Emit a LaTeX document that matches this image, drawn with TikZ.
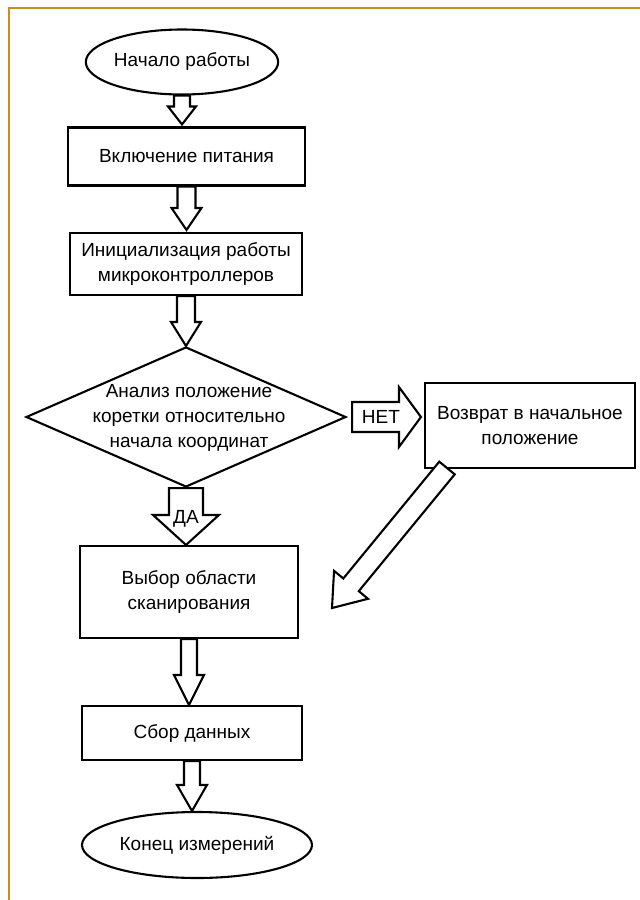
\documentclass[tikz,border=0pt]{standalone}
\usepackage{fontspec}
\setmainfont{Liberation Sans}
\usetikzlibrary{shapes.geometric,calc}
\definecolor{framecol}{RGB}{204,140,30}
\tikzset{
  lbl/.style={font=\fontsize{19}{25}\selectfont, align=center},
  proc/.style={draw, line width=2.1pt, fill=white, rectangle, inner sep=0, lbl},
  term/.style={draw, line width=2.1pt, fill=white, ellipse, inner sep=0, lbl},
  dec/.style={draw, line width=2.1pt, fill=white, diamond, inner sep=0},
  barrow/.style={draw, line width=2.1pt, fill=white, line join=miter},
  framestyle/.style={draw=framecol, line width=2.6pt},
}
% #1 start, #2 tip, #3 shaft half width, #4 head half width, #5 head length
\newcommand\blockarrow[5]{%
  \path ($(#2)!#5!(#1)$) coordinate (ba-h);
  \draw[barrow] ($(#1)!#3!90:(#2)$) -- ($(ba-h)!#3!90:(#2)$) -- ($(ba-h)!#4!90:(#2)$)
    -- (#2) -- ($(ba-h)!#4!-90:(#2)$) -- ($(ba-h)!#3!-90:(#2)$) -- ($(#1)!#3!-90:(#2)$) -- cycle;}
\begin{document}
\begin{tikzpicture}[x=1pt,y=-1pt]
\useasboundingbox (0,0) rectangle (640,900);
\fill[white] (0,0) rectangle (640,900);
\draw[framestyle] (9,900) -- (9,8) -- (640,8);

\node[term, minimum width=186, minimum height=65] (start) at (182,62) {Начало работы};
\node[proc, minimum width=237, minimum height=58] (b1) at (186.5,156.5) {Включение питания};
\node[proc, minimum width=232, minimum height=62] (b2) at (186,264) {Инициализация работы\\микроконтроллеров};
\node[dec, minimum width=320, minimum height=140] (dia) at (186,417) {};
\node[lbl] (diatext) at (189,418) {Анализ положение\\коретки относительно\\начала координат};
\node[proc, minimum width=210, minimum height=85] (ret) at (530,425.5) {Возврат в начальное\\положение};
\node[proc, minimum width=218, minimum height=92] (b3) at (189,592) {Выбор области\\сканирования};
\node[proc, minimum width=220, minimum height=54] (b4) at (192,733) {Сбор данных};
\node[term, minimum width=230, minimum height=66] (fin) at (197,845) {Конец измерений};

\coordinate (s1) at (start.south);
\coordinate (e1) at ($(s1 |- b1.north)+(0,-2)$);
\blockarrow{s1}{e1}{8pt}{14pt}{18pt}
\coordinate (s2) at (b1.south);
\coordinate (e2) at ($(s2 |- b2.north)+(0,-2)$);
\blockarrow{s2}{e2}{9pt}{15pt}{22pt}
\coordinate (s3) at (b2.south);
\coordinate (e3) at (s3 |- dia.north);
\blockarrow{s3}{e3}{9pt}{15pt}{24pt}
% NO branch
\coordinate (s4) at ($(dia.east)+(5,0)$);
\coordinate (e4) at ($(s4 |- ret.west)+(0,0)$);
\coordinate (e4) at ($(ret.west |- s4)+(-3,0)$);
\blockarrow{s4}{e4}{15pt}{30pt}{22pt}
\node[lbl] (net) at ($(s4)!0.42!(e4)$) {НЕТ};
% YES branch
\coordinate (s5) at (dia.south);
\coordinate (e5) at (s5 |- b3.north);
\blockarrow{s5}{e5}{17pt}{33pt}{30pt}
\node[lbl] (da) at ($(s5)!0.55!(e5)$) {ДА};
% return arrow
\coordinate (s6) at (447,468);
\coordinate (e6) at (332,608);
\blockarrow{s6}{e6}{10pt}{22pt}{30pt}
\coordinate (s7) at (b3.south);
\coordinate (e7) at (s7 |- b4.north);
\blockarrow{s7}{e7}{8pt}{15pt}{30pt}
\coordinate (s8) at (b4.south);
\coordinate (e8) at (s8 |- fin.north);
\blockarrow{s8}{e8}{8pt}{15pt}{26pt}
\end{tikzpicture}
\end{document}
